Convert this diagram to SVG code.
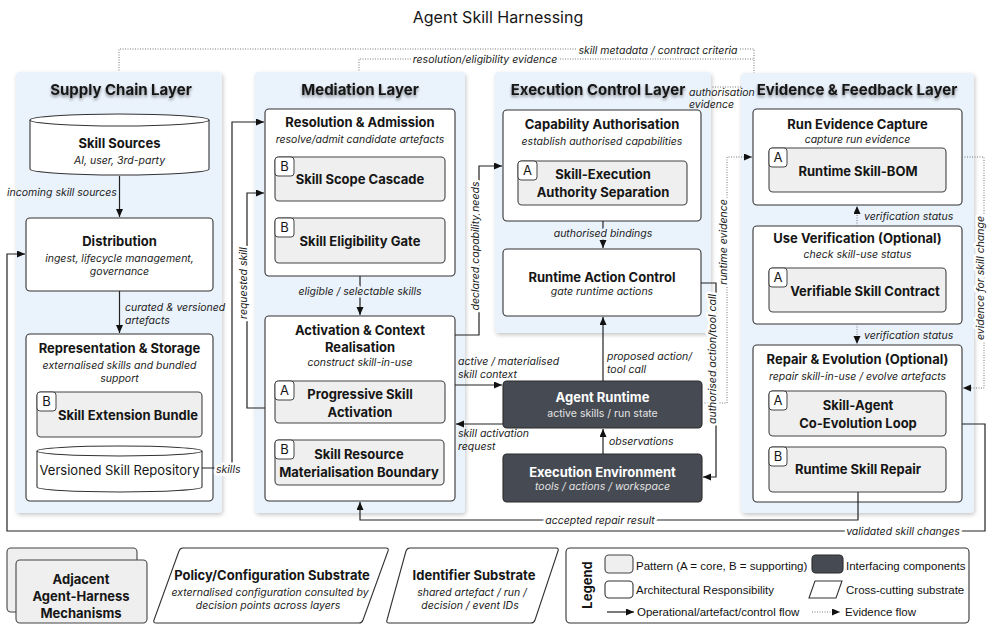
<svg xmlns="http://www.w3.org/2000/svg" width="997" height="631" viewBox="0 0 997 631">
<defs>
<style>
text{font-family:Inter,"Liberation Sans","DejaVu Sans",sans-serif;fill:#161616}
.lt{font-size:15px;font-weight:700;text-anchor:middle;filter:url(#tsh)}
.panel{fill:#eaf2fc;filter:url(#psh)}
.box{fill:#fff;stroke:#333;stroke-width:1.1}
.pat{fill:#efefef;stroke:#444;stroke-width:1.1}
.badge{fill:#fff;stroke:#444;stroke-width:1}
.dark{fill:#464a52;stroke:#2a2a2a;stroke-width:1.1}
.t{font-size:13px;font-weight:700;text-anchor:middle}
.s{font-size:10.5px;font-style:italic;text-anchor:middle;fill:#222}
.bl{font-size:13px;text-anchor:middle}
.e{font-size:10.5px;font-style:italic;fill:#222}
.hw{paint-order:stroke;stroke:#fff;stroke-width:5;stroke-linejoin:round}
.hb{paint-order:stroke;stroke:#eaf2fc;stroke-width:5;stroke-linejoin:round}
.ln{fill:none;stroke:#222;stroke-width:1.2}
.dt{fill:none;stroke:#777;stroke-width:1;stroke-dasharray:1 1.5}
.lg{font-family:"Liberation Sans",Arial,sans-serif;font-size:11.5px;fill:#111}
</style>
<filter id="psh" x="-10%" y="-10%" width="120%" height="120%">
<feDropShadow dx="1" dy="2" stdDeviation="2" flood-color="#000" flood-opacity="0.22"/>
</filter>
<filter id="tsh" x="-20%" y="-50%" width="140%" height="200%">
<feDropShadow dx="0" dy="2" stdDeviation="1.6" flood-color="#000" flood-opacity="0.45"/>
</filter>
<marker id="ah" markerUnits="userSpaceOnUse" markerWidth="9" markerHeight="8" refX="8" refY="3.5" orient="auto">
<path d="M0,0 L8,3.5 L0,7 z" fill="#111"/>
</marker>
</defs>
<rect width="997" height="631" fill="#fff"/>
<text x="498" y="23" style="font-size:16px;text-anchor:middle">Agent Skill Harnessing</text>

<g id="connectors-evidence-top">
<path class="dt" d="M119,73 V49 H754 V108" marker-end="url(#ah)"/>
<path class="dt" d="M359,73 V59 H754"/>
<path class="dt" d="M705,87 H754"/>
</g>

<g id="supply-chain-layer">
<rect class="panel" x="16" y="72" width="206" height="441" rx="4"/>
<text class="lt" x="121" y="95">Supply Chain Layer</text>
</g>
<g id="mediation-layer">
<rect class="panel" x="255" y="72" width="210" height="441" rx="4"/>
<text class="lt" x="360" y="95">Mediation Layer</text>
</g>
<g id="execution-control-layer">
<rect class="panel" x="495" y="72" width="216" height="261" rx="4"/>
<text class="lt" x="598" y="95">Execution Control Layer</text>
</g>
<g id="evidence-feedback-layer">
<rect class="panel" x="741" y="73" width="233" height="440" rx="4"/>
<text class="lt" x="857" y="95">Evidence &amp; Feedback Layer</text>
</g>

<g id="skill-sources">
<path class="box" d="M30,120 A89.5,6 0 0,1 209,120 L209,169 A89.5,6 0 0,1 30,169 Z"/>
<path class="box" style="fill:none" d="M30,120 A89.5,6 0 0,0 209,120"/>
<text class="t" x="119.5" y="148">Skill Sources</text>
<text class="s" x="119.5" y="164">AI, user, 3rd-party</text>
</g>
<g id="distribution">
<rect class="box" x="26" y="218" width="187" height="73" rx="4"/>
<text class="t" x="119.5" y="246">Distribution</text>
<text class="s" x="119.5" y="262">ingest, lifecycle management,</text>
<text class="s" x="119.5" y="275">governance</text>
</g>
<g id="representation-storage">
<rect class="box" x="26" y="334" width="187" height="167" rx="4"/>
<text class="t" x="119.5" y="353">Representation &amp; Storage</text>
<text class="s" x="119.5" y="369">externalised skills and bundled</text>
<text class="s" x="119.5" y="382">support</text>
</g>
<g id="skill-extension-bundle">
<rect class="pat" x="37" y="392" width="165" height="45" rx="4"/>
<rect class="badge" x="37" y="392" width="19" height="19" rx="3"/>
<text class="bl" x="46.5" y="406">B</text>
<text class="t" x="128" y="420">Skill Extension Bundle</text>
</g>
<g id="versioned-skill-repository">
<path class="box" d="M37,451 A82.5,5 0 0,1 202,451 L202,487 A82.5,5 0 0,1 37,487 Z"/>
<path class="box" style="fill:none" d="M37,451 A82.5,5 0 0,0 202,451"/>
<text x="119.5" y="475" style="font-size:13px;text-anchor:middle">Versioned Skill Repository</text>
</g>

<g id="resolution-admission">
<rect class="box" x="265" y="109" width="190" height="167" rx="4"/>
<text class="t" x="360" y="127">Resolution &amp; Admission</text>
<text class="s" x="360" y="143">resolve/admit candidate artefacts</text>
</g>
<g id="skill-scope-cascade">
<rect class="pat" x="275" y="157" width="170" height="44" rx="4"/>
<rect class="badge" x="275" y="157" width="19" height="19" rx="3"/>
<text class="bl" x="284.5" y="171">B</text>
<text class="t" x="360" y="184">Skill Scope Cascade</text>
</g>
<g id="skill-eligibility-gate">
<rect class="pat" x="275" y="218" width="170" height="45" rx="4"/>
<rect class="badge" x="275" y="218" width="19" height="19" rx="3"/>
<text class="bl" x="284.5" y="232">B</text>
<text class="t" x="360" y="246">Skill Eligibility Gate</text>
</g>
<g id="activation-context">
<rect class="box" x="265" y="316" width="190" height="185" rx="4"/>
<text class="t" x="360" y="335">Activation &amp; Context</text>
<text class="t" x="360" y="352">Realisation</text>
<text class="s" x="360" y="366">construct skill-in-use</text>
</g>
<g id="progressive-skill-activation">
<rect class="pat" x="275" y="381" width="170" height="42" rx="4"/>
<rect class="badge" x="275" y="381" width="19" height="19" rx="3"/>
<text class="bl" x="284.5" y="395">A</text>
<text class="t" x="360" y="399">Progressive Skill</text>
<text class="t" x="360" y="417">Activation</text>
</g>
<g id="skill-resource-materialisation">
<rect class="pat" x="275" y="440" width="169" height="45" rx="4"/>
<rect class="badge" x="275" y="440" width="19" height="19" rx="3"/>
<text class="bl" x="284.5" y="454">B</text>
<text class="t" x="359" y="459">Skill Resource</text>
<text class="t" x="359" y="477">Materialisation Boundary</text>
</g>

<g id="capability-authorisation">
<rect class="box" x="503" y="110" width="198" height="111" rx="4"/>
<text class="t" x="602" y="129">Capability Authorisation</text>
<text class="s" x="602" y="145">establish authorised capabilities</text>
</g>
<g id="skill-execution-authority-separation">
<rect class="pat" x="518" y="161" width="169" height="44" rx="4"/>
<rect class="badge" x="518" y="161" width="19" height="19" rx="3"/>
<text class="bl" x="527.5" y="175">A</text>
<text class="t" x="603" y="179">Skill-Execution</text>
<text class="t" x="603" y="197">Authority Separation</text>
</g>
<g id="runtime-action-control">
<rect class="box" x="503" y="249" width="198" height="67" rx="4"/>
<text class="t" x="602" y="282">Runtime Action Control</text>
<text class="s" x="602" y="295">gate runtime actions</text>
</g>
<g id="agent-runtime">
<rect class="dark" x="503" y="381" width="199" height="47" rx="4"/>
<text class="t" x="602.5" y="402" style="fill:#fff">Agent Runtime</text>
<text x="602.5" y="417" style="font-size:10.5px;text-anchor:middle;fill:#e4e4e4">active skills / run state</text>
</g>
<g id="execution-environment">
<rect class="dark" x="503" y="454" width="199" height="48" rx="4"/>
<text class="t" x="602.5" y="477" style="fill:#fff">Execution Environment</text>
<text class="s" x="602.5" y="490" style="fill:#e4e4e4">tools / actions / workspace</text>
</g>

<g id="run-evidence-capture">
<rect class="box" x="753" y="109" width="209" height="96" rx="4"/>
<text class="t" x="857.5" y="129">Run Evidence Capture</text>
<text class="s" x="857.5" y="143">capture run evidence</text>
</g>
<g id="runtime-skill-bom">
<rect class="pat" x="769" y="148" width="177" height="44" rx="4"/>
<rect class="badge" x="769" y="148" width="18" height="19" rx="3"/>
<text class="bl" x="778" y="162">A</text>
<text class="t" x="858" y="176">Runtime Skill-BOM</text>
</g>
<g id="use-verification">
<rect class="box" x="753" y="226" width="209" height="98" rx="4"/>
<text class="t" x="857.5" y="243">Use Verification (Optional)</text>
<text class="s" x="857.5" y="258">check skill-use status</text>
</g>
<g id="verifiable-skill-contract">
<rect class="pat" x="769" y="268" width="177" height="44" rx="4"/>
<rect class="badge" x="769" y="268" width="18" height="19" rx="3"/>
<text class="bl" x="778" y="282">A</text>
<text class="t" x="865" y="296">Verifiable Skill Contract</text>
</g>
<g id="repair-evolution">
<rect class="box" x="753" y="345" width="209" height="157" rx="4"/>
<text class="t" x="857.5" y="364">Repair &amp; Evolution (Optional)</text>
<text class="s" x="857.5" y="380">repair skill-in-use / evolve artefacts</text>
</g>
<g id="skill-agent-co-evolution-loop">
<rect class="pat" x="769" y="391" width="177" height="45" rx="4"/>
<rect class="badge" x="769" y="391" width="18" height="19" rx="3"/>
<text class="bl" x="778" y="405">A</text>
<text class="t" x="858" y="410">Skill-Agent</text>
<text class="t" x="858" y="428">Co-Evolution Loop</text>
</g>
<g id="runtime-skill-repair">
<rect class="pat" x="769" y="447" width="177" height="45" rx="4"/>
<rect class="badge" x="769" y="447" width="18" height="19" rx="3"/>
<text class="bl" x="778" y="461">B</text>
<text class="t" x="858" y="474">Runtime Skill Repair</text>
</g>

<g id="connectors">
<path class="ln" d="M119.5,176 V217" marker-end="url(#ah)"/>
<path class="ln" d="M119.5,291 V333" marker-end="url(#ah)"/>
<path class="ln" d="M202,468 H232 V122 H264" marker-end="url(#ah)"/>
<path class="ln" d="M265,408 H247 V193 H264" marker-end="url(#ah)"/>
<path class="ln" d="M962,424 H985 V531 H7 V254 H25" marker-end="url(#ah)"/>
<path class="ln" d="M858,492 V520 H360 V502" marker-end="url(#ah)"/>
<path class="ln" d="M360,276 V315" marker-end="url(#ah)"/>
<path class="ln" d="M455,335 H479 V166 H502" marker-end="url(#ah)"/>
<path class="ln" d="M455,385 H502" marker-end="url(#ah)"/>
<path class="ln" d="M503,424 H456" marker-end="url(#ah)"/>
<path class="ln" d="M603,221 V248" marker-end="url(#ah)"/>
<path class="ln" d="M603,381 V317" marker-end="url(#ah)"/>
<path class="ln" d="M603,454 V429" marker-end="url(#ah)"/>
<path class="ln" d="M701,283 H716 V477 H703" marker-end="url(#ah)"/>
<path class="dt" d="M702,403 H727 V157 H752" marker-end="url(#ah)"/>
<path class="dt" d="M962,157 H984 V388 H963" marker-end="url(#ah)"/>
<path class="dt" d="M857,226 V206" marker-end="url(#ah)"/>
<path class="dt" d="M857,324 V344" marker-end="url(#ah)"/>

<text class="e hw" x="658" y="54" text-anchor="middle">skill metadata / contract criteria</text>
<text class="e hw" x="485" y="63" text-anchor="middle">resolution/eligibility evidence</text>
<text class="e" x="689" y="96">authorisation</text>
<text class="e" x="689" y="108">evidence</text>
<text class="e" x="7" y="196">incoming skill sources</text>
<text class="e" x="125" y="311">curated &amp; versioned</text>
<text class="e" x="125" y="324">artefacts</text>
<text class="e hw" x="216" y="473">skills</text>
<text class="e hw" x="251" y="287" text-anchor="middle" transform="rotate(-90 247 287)">requested skill</text>
<text class="e hb" x="360" y="295" text-anchor="middle">eligible / selectable skills</text>
<text class="e hw" x="483" y="250" text-anchor="middle" transform="rotate(-90 479 250)">declared capability needs</text>
<text class="e" x="458" y="365">active / materialised</text>
<text class="e" x="458" y="378">skill context</text>
<text class="e" x="458" y="437">skill activation</text>
<text class="e" x="458" y="450">request</text>
<text class="e hb" x="603" y="237" text-anchor="middle">authorised bindings</text>
<text class="e" x="607" y="360">proposed action/</text>
<text class="e" x="607" y="373">tool call</text>
<text class="e" x="609" y="445">observations</text>
<text class="e hw" x="720" y="363" text-anchor="middle" transform="rotate(-90 716 363)">authorised action/tool call</text>
<text class="e hw" x="731" y="246" text-anchor="middle" transform="rotate(-90 727 246)">runtime evidence</text>
<text class="e hw" x="988" y="282" text-anchor="middle" transform="rotate(-90 984 282)">evidence for skill change</text>
<text class="e" x="864" y="220">verification status</text>
<text class="e" x="864" y="339">verification status</text>
<text class="e hw" x="600" y="524" text-anchor="middle">accepted repair result</text>
<text class="e hw" x="903" y="535" text-anchor="middle">validated skill changes</text>
</g>

<g id="adjacent-mechanisms">
<rect class="pat" x="7" y="548" width="130" height="64" rx="4"/>
<rect class="pat" x="16" y="560" width="131" height="63" rx="4"/>
<text class="t" x="81" y="584">Adjacent</text>
<text class="t" x="81" y="601">Agent-Harness</text>
<text class="t" x="81" y="618">Mechanisms</text>
</g>
<g id="policy-configuration-substrate">
<path class="box" d="M183,548 H386 Q389,548 388,551 L363,620 Q362,623 359,623 H156 Q153,623 154,620 L179,551 Q180,548 183,548 Z"/>
<text class="t" x="272" y="580">Policy/Configuration Substrate</text>
<text class="s" x="270" y="596">externalised configuration consulted by</text>
<text class="s" x="268" y="609">decision points across layers</text>
</g>
<g id="identifier-substrate">
<path class="box" d="M410,548 H556 Q559,548 558,551 L535,620 Q534,623 531,623 H389 Q386,623 387,620 L406,551 Q407,548 410,548 Z"/>
<text class="t" x="474" y="580">Identifier Substrate</text>
<text class="s" x="472" y="596">shared artefact / run /</text>
<text class="s" x="470" y="609">decision / event IDs</text>
</g>
<g id="legend">
<rect x="566" y="548" width="403" height="75" rx="4" fill="#fff" stroke="#333" stroke-width="1.1"/>
<text x="592" y="585" transform="rotate(-90 592 585)" style="font-size:13px;font-weight:700;text-anchor:middle">Legend</text>
<rect class="pat" x="605" y="555" width="28" height="18" rx="4"/>
<text class="lg" x="636" y="570">Pattern (A = core, B = supporting)</text>
<rect class="dark" x="812" y="555" width="31" height="18" rx="4"/>
<text class="lg" x="846" y="570">Interfacing components</text>
<rect class="box" x="605" y="581" width="28" height="17" rx="4"/>
<text class="lg" x="636" y="594">Architectural Responsibility</text>
<path class="box" d="M815,581 H842 L836,598 H809 Z"/>
<text class="lg" x="846" y="594">Cross-cutting substrate</text>
<path class="ln" d="M607,612 H634" marker-end="url(#ah)"/>
<text class="lg" x="637" y="616">Operational/artefact/control flow</text>
<path class="dt" d="M812,612 H840" marker-end="url(#ah)"/>
<text class="lg" x="845" y="616">Evidence flow</text>
</g>
</svg>
